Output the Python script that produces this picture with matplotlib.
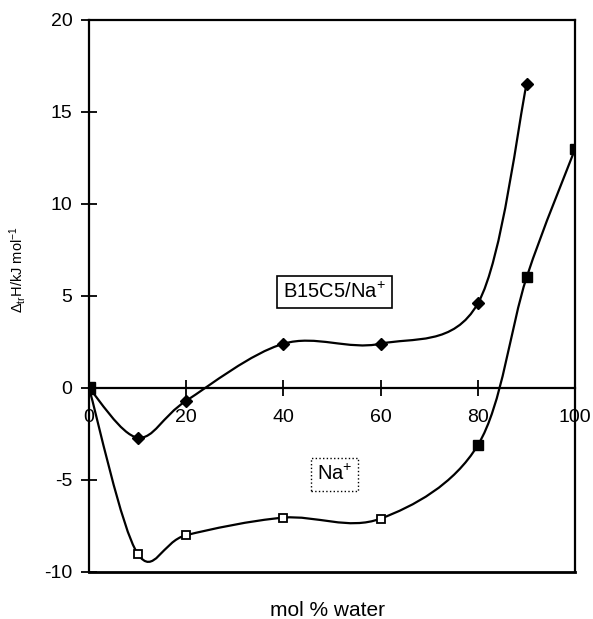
import matplotlib.pyplot as plt
from matplotlib.path import Path
from matplotlib.patches import PathPatch

plt.rcParams['font.family'] = ['Liberation Sans', 'DejaVu Sans']
plt.rcParams['mathtext.default'] = 'regular'
plt.rcParams['axes.unicode_minus'] = False

water = [0, 10, 20, 40, 60, 80, 90, 100]
crown = [0, -2.7, -0.7, 2.4, 2.4, 4.6, 16.5]     # B15C5/Na+, x = water[:7]
sodium = [0, -9.0, -8.0, -7.05, -7.1, -3.1, 6.0, 13.0]  # Na+


def smooth_path(xs, ys):
    # Excel-style smoothed line: cubic bezier through each point
    pts = list(zip(xs, ys))
    n = len(pts)
    verts = [pts[0]]
    codes = [Path.MOVETO]
    for i in range(n - 1):
        p0 = pts[i - 1] if i > 0 else pts[i]
        p1 = pts[i]
        p2 = pts[i + 1]
        p3 = pts[i + 2] if i + 2 < n else pts[i + 1]
        c1 = (p1[0] + (p2[0] - p0[0]) / 6, p1[1] + (p2[1] - p0[1]) / 6)
        c2 = (p2[0] - (p3[0] - p1[0]) / 6, p2[1] - (p3[1] - p1[1]) / 6)
        verts += [c1, c2, p2]
        codes += [Path.CURVE4] * 3
    return Path(verts, codes)


fig = plt.figure(figsize=(5.93, 6.19), dpi=100)
ax = fig.add_axes([0.150, 0.076, 0.820, 0.892])

for xs, ys in [(water[:7], crown), (water, sodium)]:
    ax.add_patch(PathPatch(smooth_path(xs, ys), fill=False, lw=1.6, color='black'))

ax.plot(water[:7], crown, ls='none', marker='D', ms=6, color='black')
ax.plot(water[1:5], sodium[1:5], ls='none', marker='s', ms=6,
        mfc='white', mec='black', mew=1.3)
ax.plot(water[5:], sodium[5:], ls='none', marker='s', ms=7, color='black')
ax.plot([0], [0], ls='none', marker='s', ms=8, color='black')

ax.set_xlim(0, 100)
ax.set_ylim(-10, 20)
ax.spines['bottom'].set_position(('data', 0))
for s in ax.spines.values():
    s.set_linewidth(1.6)
ax.axhline(-10, color='black', lw=2, clip_on=False)

ax.set_xticks([0, 20, 40, 60, 80, 100])
ax.set_yticks([-10, -5, 0, 5, 10, 15, 20])
ax.tick_params(axis='both', direction='inout', length=12, width=1.3,
               labelsize=14, colors='black')
ax.tick_params(axis='x', pad=9)
ax.tick_params(axis='y', pad=6)

ax.set_ylabel('$\\Delta_{tr}$H/kJ mol$^{-1}$', fontsize=10.5)
ax.yaxis.set_label_coords(-0.125, 0.547)
ax.set_xlabel('mol % water', fontsize=15)
ax.xaxis.set_label_coords(0.49, -0.052)

ax.text(50.5, 5.2, 'B15C5/Na$^{+}$', fontsize=14.5, ha='center', va='center',
        bbox=dict(boxstyle='square,pad=0.3', fc='white', ec='black', lw=1.2))
ax.text(50.5, -4.7, 'Na$^{+}$', fontsize=14.5, ha='center', va='center',
        bbox=dict(boxstyle='square,pad=0.3', fc='white', ec='black', lw=1,
                  ls=':'))

fig.savefig('out.png', dpi=100)
